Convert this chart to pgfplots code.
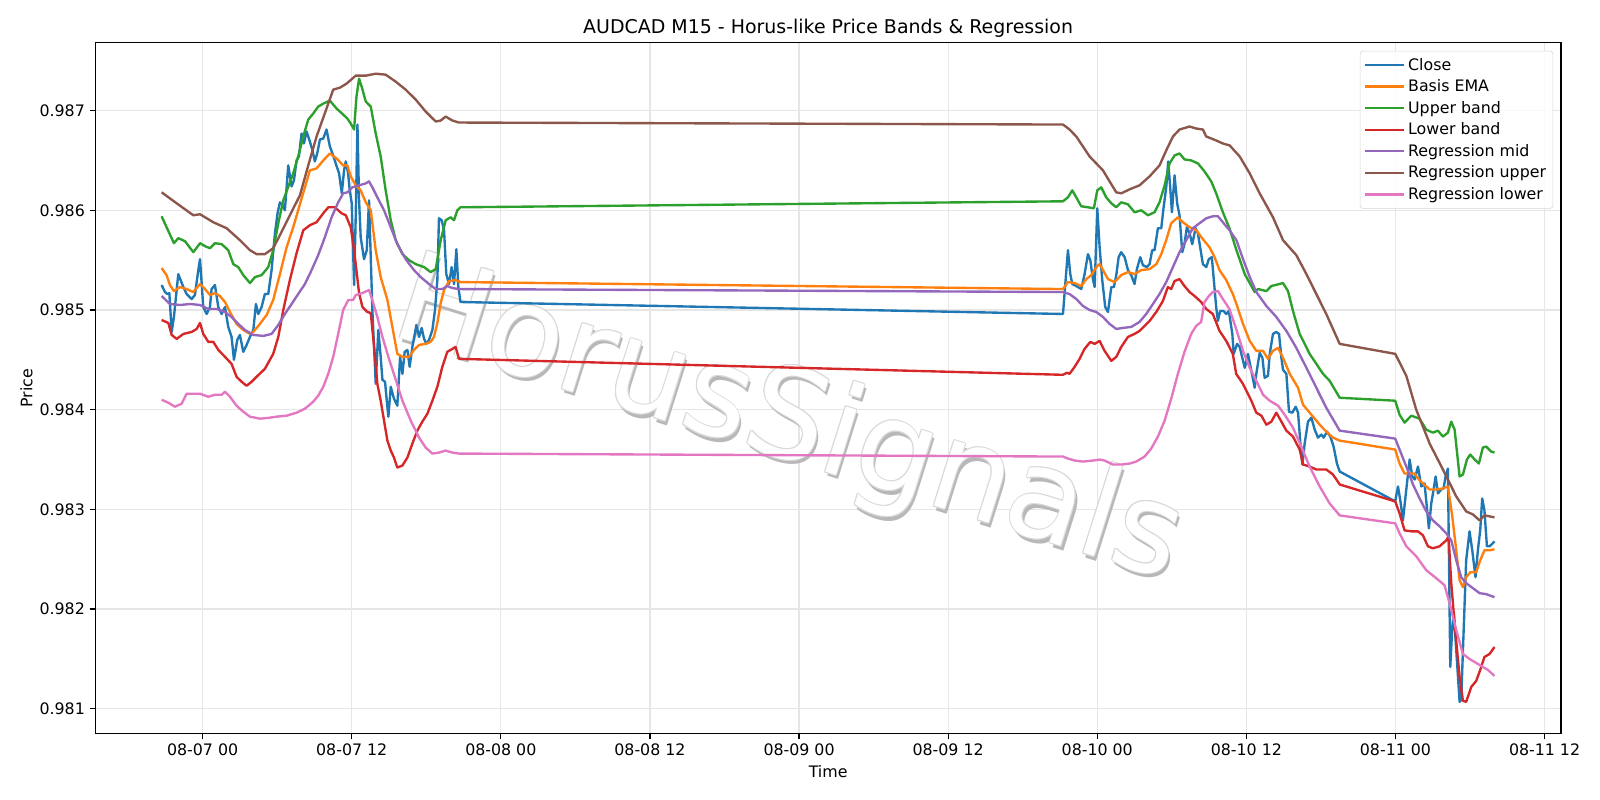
\documentclass[border=0pt]{standalone}
\usepackage{fontspec}
\setmainfont{DejaVu Sans}
\usepackage{pgfplots}
\pgfplotsset{compat=1.18}
\definecolor{c0}{HTML}{1F77B4}
\definecolor{c1}{HTML}{FF7F0E}
\definecolor{c2}{HTML}{2CA02C}
\definecolor{c3}{HTML}{D62728}
\definecolor{c4}{HTML}{9467BD}
\definecolor{c5}{HTML}{8C564B}
\definecolor{c6}{HTML}{E377C2}
\definecolor{gridgray}{RGB}{230,230,230}
\definecolor{legendgray}{RGB}{214,214,214}
\newcommand{\wmfont}{\fontsize{90.5}{96}\selectfont}
\newcommand{\lblfont}{\fontsize{11.43}{13.7}\selectfont}
\begin{document}
\begin{tikzpicture}
\begin{axis}[
  at={(0,0)}, anchor=south west,
  scale only axis, width=1055.3bp, height=497.5bp,
  set layers,
  xmin=-8.64, xmax=109.32, ymin=0.98075, ymax=0.98768,
  xtick={0,12,24,36,48,60,72,84,96,108},
  xticklabels={08-07 00,08-07 12,08-08 00,08-08 12,08-09 00,08-09 12,08-10 00,08-10 12,08-11 00,08-11 12},
  ytick={0.981,0.982,0.983,0.984,0.985,0.986,0.987},
  yticklabels={0.981,0.982,0.983,0.984,0.985,0.986,0.987},
  /pgf/number format/assume math mode=true,
  ticklabel style={font=\lblfont},
  tick pos=left, tick align=outside, major tick length=4pt,
  tick style={line width=0.9pt, black},
  axis line style={line width=0.9pt},
  grid=major, major grid style={line width=0.9pt, color=gridgray},
  title={AUDCAD M15 - Horus-like Price Bands \& Regression},
  every axis title shift=0pt,
  title style={font=\fontsize{13.7}{16}\selectfont, at={(axis description cs:0.5,1.0133)}, anchor=base, yshift=0pt},
  xlabel={Time}, ylabel={Price},
  every axis x label/.style={at={(axis description cs:0.5,-0.0630)}, anchor=base, font=\lblfont},
  every axis y label/.style={at={(axis description cs:-0.0430,0.5)}, rotate=90, anchor=base, font=\lblfont},
  legend style={at={(axis description cs:0.9947,0.9884)}, anchor=north east, draw=legendgray, rounded corners=2pt, fill=white, fill opacity=0.8, draw opacity=1, text opacity=1, font=\lblfont, row sep=1.4pt, inner xsep=3pt, inner ysep=3pt},
  legend cell align=left,
  legend image code/.code={\path (0pt,0pt) -- (28pt,0pt); \draw[#1] (0pt,0pt) -- (24pt,0pt);},
  every axis plot/.append style={line width=1.71pt, line join=round, mark=none},
]
\begin{pgfonlayer}{pre main}
\node[text=black!28, rotate=-17.5, font=\wmfont, xshift=2.6pt, yshift=-2.6pt] at (axis description cs:0.4728,0.4484) {HorusSignals};
\pgfplotsinvokeforeach{0,45,90,135,180,225,270,315}{
  \node[text=black!15, rotate=-17.5, font=\wmfont, shift={(#1:0.7pt)}] at (axis description cs:0.4728,0.4484) {HorusSignals};
}
\node[text=white, rotate=-17.5, font=\wmfont] at (axis description cs:0.4728,0.4484) {HorusSignals};
\end{pgfonlayer}

% Close
\addplot[c0] coordinates {
(-3.30,0.98525) (-3.03,0.98518) (-2.84,0.98516) (-2.68,0.98517) (-2.49,0.98478) (-2.31,0.98493) (-1.96,0.98536) (-1.55,0.98523) (-1.29,0.98516) (-0.88,0.98511) (-0.62,0.98515) (-0.35,0.98540) (-0.21,0.98551) (0.05,0.98503) (0.32,0.98496) (0.59,0.98503) (0.72,0.98521) (0.99,0.98525) (1.26,0.98503) (1.53,0.98496) (1.80,0.98503) (2.06,0.98483) (2.33,0.98473) (2.52,0.98450) (2.79,0.98470) (3.00,0.98475) (3.27,0.98458) (3.54,0.98465) (3.81,0.98473) (4.08,0.98480) (4.29,0.98506) (4.48,0.98496) (4.75,0.98503) (5.01,0.98516) (5.28,0.98516) (5.55,0.98540) (5.82,0.98577) (6.03,0.98597) (6.22,0.98608) (6.43,0.98605) (6.62,0.98600) (6.89,0.98645) (7.16,0.98624) (7.35,0.98630) (7.56,0.98650) (7.75,0.98654) (7.96,0.98677) (8.15,0.98667) (8.36,0.98679) (8.58,0.98671) (8.82,0.98661) (9.03,0.98649) (9.22,0.98657) (9.44,0.98671) (9.71,0.98672) (9.97,0.98681) (10.24,0.98664) (10.45,0.98657) (10.71,0.98647) (10.98,0.98637) (11.20,0.98617) (11.38,0.98640) (11.52,0.98649) (11.71,0.98637) (11.84,0.98620) (12.00,0.98607) (12.19,0.98525) (12.32,0.98593) (12.46,0.98686) (12.59,0.98610) (12.72,0.98573) (12.99,0.98551) (13.21,0.98560) (13.39,0.98610) (13.66,0.98500) (13.93,0.98426) (14.14,0.98480) (14.33,0.98453) (14.47,0.98430) (14.68,0.98428) (14.82,0.98409) (14.95,0.98393) (15.14,0.98423) (15.40,0.98411) (15.67,0.98404) (15.89,0.98453) (16.08,0.98436) (16.26,0.98458) (16.48,0.98460) (16.66,0.98443) (16.88,0.98463) (17.09,0.98477) (17.20,0.98485) (17.42,0.98473) (17.63,0.98482) (17.82,0.98471) (18.01,0.98466) (18.22,0.98470) (18.49,0.98480) (18.70,0.98500) (18.89,0.98530) (19.02,0.98592) (19.24,0.98590) (19.43,0.98580) (19.61,0.98536) (19.83,0.98526) (20.04,0.98543) (20.23,0.98526) (20.42,0.98561) (20.58,0.98523) (20.75,0.98508)
(69.24,0.98496) (69.64,0.98560) (69.83,0.98536) (69.99,0.98526) (70.31,0.98524) (70.71,0.98521) (70.98,0.98536) (71.25,0.98556) (71.44,0.98550) (71.65,0.98531) (71.79,0.98523) (72.00,0.98602) (72.19,0.98563) (72.40,0.98530) (72.64,0.98503) (72.86,0.98498) (73.13,0.98523) (73.34,0.98523) (73.53,0.98535) (73.72,0.98553) (73.93,0.98558) (74.20,0.98553) (74.47,0.98540) (74.73,0.98535) (75.00,0.98526) (75.19,0.98541) (75.46,0.98553) (75.67,0.98545) (75.99,0.98543) (76.21,0.98546) (76.42,0.98560) (76.61,0.98560) (76.88,0.98582) (77.15,0.98582) (77.34,0.98603) (77.55,0.98623) (77.71,0.98649) (77.87,0.98623) (78.01,0.98598) (78.22,0.98635) (78.43,0.98607) (78.62,0.98595) (78.84,0.98558) (79.02,0.98566) (79.21,0.98583) (79.43,0.98577) (79.64,0.98566) (79.91,0.98582) (80.10,0.98577) (80.28,0.98563) (80.50,0.98546) (80.77,0.98543) (80.98,0.98551) (81.22,0.98553) (81.36,0.98533) (81.57,0.98503) (81.71,0.98489) (81.89,0.98499) (82.16,0.98499) (82.38,0.98496) (82.59,0.98499) (82.87,0.98476) (82.98,0.98456) (83.25,0.98466) (83.46,0.98463) (83.87,0.98442) (84.13,0.98456) (84.40,0.98439) (84.67,0.98422) (84.80,0.98436) (85.07,0.98457) (85.29,0.98452) (85.47,0.98432) (85.74,0.98434) (85.88,0.98456) (86.14,0.98476) (86.41,0.98478) (86.63,0.98476) (86.82,0.98452) (86.95,0.98440) (87.22,0.98436) (87.43,0.98398) (87.70,0.98397) (87.97,0.98403) (88.16,0.98397) (88.35,0.98366) (88.51,0.98345) (88.69,0.98366) (88.96,0.98388) (89.23,0.98392) (89.50,0.98380) (89.76,0.98372) (90.03,0.98375) (90.22,0.98372) (90.49,0.98378) (90.76,0.98373) (91.02,0.98363) (91.29,0.98346) (91.51,0.98338)
(95.98,0.98308) (96.20,0.98323) (96.39,0.98309) (96.60,0.98289) (96.87,0.98320) (97.14,0.98350) (97.35,0.98333) (97.54,0.98330) (97.81,0.98343) (98.08,0.98323) (98.34,0.98326) (98.69,0.98281) (98.88,0.98306) (99.07,0.98320) (99.23,0.98333) (99.42,0.98316) (99.68,0.98320) (99.87,0.98321) (100.03,0.98333) (100.22,0.98341) (100.41,0.98142) (100.57,0.98182) (100.70,0.98196) (100.89,0.98159) (101.16,0.98107) (101.29,0.98109) (101.43,0.98159) (101.69,0.98249) (101.96,0.98278) (102.18,0.98259) (102.44,0.98232) (102.63,0.98259) (102.82,0.98279) (102.98,0.98311) (103.16,0.98299) (103.36,0.98263) (103.57,0.98263) (103.83,0.98266) (103.97,0.98268)
};
\addlegendentry{Close}

% Basis EMA
\addplot[c1] coordinates {
(-3.30,0.98542) (-2.90,0.98535) (-2.63,0.98525) (-2.31,0.98519) (-1.82,0.98523) (-1.29,0.98521) (-0.75,0.98518) (-0.21,0.98526) (0.19,0.98521) (0.59,0.98515) (0.99,0.98517) (1.39,0.98514) (1.80,0.98508) (2.20,0.98498) (2.73,0.98486) (3.27,0.98480) (3.81,0.98476) (4.08,0.98478) (4.61,0.98486) (5.15,0.98495) (5.68,0.98510) (6.22,0.98536) (6.76,0.98563) (7.29,0.98583) (7.83,0.98606) (8.63,0.98640) (9.17,0.98642) (9.71,0.98650) (10.24,0.98657) (10.78,0.98652) (11.31,0.98645) (11.65,0.98645) (11.92,0.98634) (12.32,0.98625) (12.72,0.98620) (13.13,0.98608) (13.53,0.98600) (13.93,0.98560) (14.33,0.98533) (14.87,0.98510) (15.27,0.98483) (15.67,0.98456) (16.08,0.98453) (16.61,0.98453) (17.01,0.98460) (17.42,0.98465) (17.95,0.98466) (18.35,0.98468) (18.62,0.98473) (18.89,0.98487) (19.16,0.98507) (19.43,0.98520) (19.83,0.98529) (20.36,0.98530) (20.75,0.98528)
(69.24,0.98521) (69.64,0.98528) (70.18,0.98527) (70.71,0.98524) (71.12,0.98531) (71.52,0.98535) (71.92,0.98543) (72.19,0.98546) (72.46,0.98540) (72.86,0.98531) (73.39,0.98528) (73.93,0.98535) (74.47,0.98538) (75.00,0.98536) (75.54,0.98540) (76.21,0.98541) (76.75,0.98546) (77.15,0.98556) (77.55,0.98570) (77.95,0.98587) (78.49,0.98593) (78.89,0.98588) (79.43,0.98583) (79.96,0.98580) (80.50,0.98571) (81.03,0.98563) (81.44,0.98553) (81.84,0.98540) (82.38,0.98530) (82.91,0.98516) (83.20,0.98506) (83.73,0.98486) (84.27,0.98469) (84.80,0.98459) (85.34,0.98459) (85.74,0.98451) (86.14,0.98459) (86.55,0.98462) (86.95,0.98452) (87.49,0.98436) (88.16,0.98422) (88.56,0.98405) (89.23,0.98395) (89.90,0.98385) (90.43,0.98378) (90.97,0.98372) (91.51,0.98369)
(95.98,0.98360) (96.33,0.98346) (96.73,0.98336) (97.14,0.98336) (97.54,0.98336) (97.81,0.98331) (98.21,0.98326) (98.75,0.98320) (99.28,0.98320) (99.82,0.98321) (100.22,0.98323) (100.57,0.98293) (100.89,0.98259) (101.16,0.98229) (101.43,0.98222) (101.69,0.98232) (102.02,0.98237) (102.50,0.98237) (102.82,0.98249) (103.16,0.98259) (103.57,0.98259) (103.97,0.98260)
};
\addlegendentry{Basis EMA}

% Upper band
\addplot[c2] coordinates {
(-3.30,0.98594) (-2.90,0.98583) (-2.31,0.98567) (-1.96,0.98572) (-1.42,0.98569) (-0.75,0.98558) (-0.21,0.98567) (0.19,0.98564) (0.59,0.98562) (0.99,0.98567) (1.53,0.98566) (2.06,0.98560) (2.47,0.98546) (2.87,0.98543) (3.27,0.98535) (3.81,0.98527) (4.21,0.98533) (4.75,0.98535) (5.28,0.98543) (5.68,0.98560) (6.09,0.98587) (6.49,0.98610) (7.29,0.98637) (7.69,0.98654) (8.10,0.98674) (8.50,0.98691) (8.90,0.98697) (9.30,0.98704) (9.71,0.98707) (10.24,0.98710) (10.78,0.98702) (11.31,0.98696) (11.65,0.98692) (11.92,0.98687) (12.19,0.98681) (12.38,0.98714) (12.59,0.98732) (12.80,0.98724) (13.13,0.98709) (13.53,0.98704) (13.93,0.98677) (14.33,0.98654) (14.73,0.98620) (15.14,0.98590) (15.54,0.98570) (16.08,0.98556) (16.61,0.98550) (17.15,0.98546) (17.82,0.98543) (18.35,0.98538) (18.76,0.98541) (19.16,0.98570) (19.56,0.98590) (19.96,0.98593) (20.23,0.98590) (20.50,0.98600) (20.75,0.98603)
(69.24,0.98609) (69.64,0.98613) (69.99,0.98620) (70.31,0.98613) (70.71,0.98604) (71.25,0.98603) (71.73,0.98602) (72.00,0.98620) (72.32,0.98623) (72.72,0.98613) (73.13,0.98607) (73.53,0.98603) (73.93,0.98608) (74.47,0.98606) (75.00,0.98598) (75.54,0.98600) (76.08,0.98595) (76.61,0.98598) (77.01,0.98608) (77.42,0.98625) (77.82,0.98647) (78.22,0.98655) (78.62,0.98657) (79.02,0.98651) (79.56,0.98650) (80.10,0.98647) (80.63,0.98639) (81.17,0.98629) (81.57,0.98617) (82.11,0.98598) (82.64,0.98582) (83.20,0.98560) (83.87,0.98536) (84.67,0.98518) (84.94,0.98521) (85.61,0.98519) (86.01,0.98524) (86.95,0.98527) (87.35,0.98519) (87.75,0.98499) (88.29,0.98476) (89.09,0.98456) (90.17,0.98436) (90.70,0.98429) (91.51,0.98412)
(95.98,0.98409) (96.33,0.98395) (96.73,0.98387) (97.27,0.98394) (97.94,0.98391) (98.48,0.98380) (99.01,0.98377) (99.42,0.98379) (99.82,0.98373) (100.22,0.98377) (100.49,0.98388) (100.76,0.98380) (101.16,0.98333) (101.43,0.98335) (101.75,0.98350) (102.02,0.98355) (102.37,0.98350) (102.71,0.98346) (103.03,0.98362) (103.30,0.98363) (103.70,0.98358) (103.97,0.98357)
};
\addlegendentry{Upper band}

% Lower band
\addplot[c3] coordinates {
(-3.30,0.98490) (-2.76,0.98487) (-2.49,0.98475) (-2.09,0.98471) (-1.55,0.98476) (-0.88,0.98478) (-0.48,0.98481) (-0.21,0.98487) (0.05,0.98476) (0.46,0.98468) (0.86,0.98468) (1.26,0.98460) (1.80,0.98453) (2.33,0.98446) (2.73,0.98433) (3.14,0.98428) (3.54,0.98424) (3.94,0.98428) (4.34,0.98433) (5.01,0.98441) (5.68,0.98456) (6.09,0.98473) (6.49,0.98500) (7.02,0.98530) (7.56,0.98557) (8.10,0.98580) (8.63,0.98585) (9.17,0.98588) (9.71,0.98597) (10.11,0.98603) (10.64,0.98603) (11.18,0.98597) (11.52,0.98595) (11.92,0.98583) (12.19,0.98560) (12.59,0.98517) (12.86,0.98503) (13.26,0.98498) (13.53,0.98497) (13.80,0.98463) (14.06,0.98426) (14.33,0.98409) (14.60,0.98389) (14.87,0.98369) (15.14,0.98359) (15.40,0.98352) (15.67,0.98342) (16.08,0.98344) (16.48,0.98352) (16.88,0.98366) (17.28,0.98379) (17.68,0.98388) (18.09,0.98396) (18.49,0.98409) (18.89,0.98423) (19.29,0.98443) (19.69,0.98458) (20.10,0.98461) (20.36,0.98463) (20.63,0.98451)
(69.24,0.98435) (69.56,0.98437) (69.77,0.98436) (70.18,0.98443) (70.58,0.98451) (70.98,0.98461) (71.44,0.98468) (71.79,0.98466) (72.19,0.98469) (72.59,0.98459) (73.13,0.98449) (73.53,0.98453) (73.93,0.98463) (74.47,0.98473) (75.00,0.98476) (75.40,0.98479) (75.81,0.98484) (76.21,0.98489) (76.75,0.98498) (77.28,0.98509) (77.68,0.98523) (77.95,0.98521) (78.22,0.98529) (78.62,0.98531) (79.02,0.98524) (79.43,0.98518) (79.83,0.98514) (80.36,0.98508) (80.77,0.98501) (81.30,0.98496) (81.84,0.98479) (82.38,0.98469) (82.91,0.98456) (83.18,0.98436) (83.72,0.98426) (84.40,0.98409) (84.80,0.98397) (85.21,0.98394) (85.61,0.98385) (86.01,0.98388) (86.41,0.98397) (86.82,0.98388) (87.22,0.98379) (87.75,0.98373) (88.29,0.98360) (88.56,0.98345) (89.09,0.98343) (89.63,0.98340) (90.43,0.98340) (90.97,0.98335) (91.51,0.98325)
(95.98,0.98308) (96.33,0.98296) (96.73,0.98279) (97.27,0.98278) (97.81,0.98278) (98.21,0.98274) (98.61,0.98263) (99.01,0.98261) (99.55,0.98263) (100.09,0.98269) (100.27,0.98273) (100.49,0.98226) (100.76,0.98185) (101.16,0.98132) (101.43,0.98108) (101.69,0.98107) (102.10,0.98122) (102.50,0.98128) (102.82,0.98139) (103.16,0.98152) (103.57,0.98155) (103.97,0.98162)
};
\addlegendentry{Lower band}

% Regression mid
\addplot[c4] coordinates {
(-3.30,0.98514) (-2.63,0.98506) (-1.82,0.98505) (-1.02,0.98506) (-0.21,0.98505) (0.46,0.98501) (1.13,0.98501) (1.80,0.98498) (2.33,0.98493) (2.87,0.98486) (3.40,0.98480) (4.08,0.98475) (4.88,0.98474) (5.55,0.98476) (6.09,0.98485) (6.62,0.98496) (7.16,0.98506) (7.69,0.98516) (8.23,0.98526) (8.77,0.98540) (9.30,0.98555) (9.84,0.98573) (10.38,0.98593) (10.91,0.98608) (11.31,0.98617) (11.65,0.98618) (12.05,0.98623) (12.59,0.98625) (13.13,0.98627) (13.39,0.98629) (13.66,0.98623) (14.06,0.98613) (14.60,0.98600) (15.14,0.98583) (15.67,0.98566) (16.34,0.98551) (17.01,0.98540) (17.55,0.98533) (18.22,0.98526) (18.76,0.98521) (19.29,0.98521) (19.69,0.98524) (20.10,0.98522) (20.63,0.98521)
(69.24,0.98518) (69.77,0.98516) (70.31,0.98511) (70.85,0.98504) (71.38,0.98500) (71.92,0.98498) (72.46,0.98493) (72.99,0.98486) (73.53,0.98481) (74.06,0.98482) (74.73,0.98483) (75.40,0.98488) (75.94,0.98496) (76.48,0.98506) (77.01,0.98516) (77.55,0.98528) (78.09,0.98543) (78.62,0.98558) (79.16,0.98570) (79.69,0.98582) (80.23,0.98587) (80.77,0.98592) (81.30,0.98594) (81.71,0.98594) (82.11,0.98588) (82.64,0.98580) (83.20,0.98570) (83.73,0.98551) (84.27,0.98533) (84.80,0.98518) (85.61,0.98504) (86.41,0.98493) (87.22,0.98479) (88.02,0.98462) (88.83,0.98442) (89.63,0.98422) (90.43,0.98402) (91.51,0.98379)
(95.98,0.98371) (96.33,0.98360) (96.87,0.98343) (97.41,0.98325) (97.94,0.98311) (98.48,0.98298) (99.01,0.98289) (99.55,0.98283) (100.09,0.98276) (100.49,0.98269) (100.89,0.98249) (101.29,0.98232) (101.69,0.98226) (102.23,0.98221) (102.77,0.98216) (103.30,0.98215) (103.97,0.98212)
};
\addlegendentry{Regression mid}

% Regression upper
\addplot[c5] coordinates {
(-3.30,0.98618) (-2.09,0.98607) (-0.75,0.98595) (-0.21,0.98596) (0.86,0.98588) (1.93,0.98582) (3.00,0.98570) (3.81,0.98560) (4.34,0.98556) (5.01,0.98556) (5.68,0.98562) (6.22,0.98575) (7.02,0.98595) (7.83,0.98615) (8.50,0.98645) (9.17,0.98674) (10.51,0.98721) (11.05,0.98723) (11.58,0.98727) (12.32,0.98735) (13.13,0.98735) (13.93,0.98737) (14.73,0.98736) (15.54,0.98729) (16.34,0.98721) (17.15,0.98711) (17.95,0.98699) (18.76,0.98689) (19.16,0.98690) (19.56,0.98694) (20.10,0.98690) (20.63,0.98688)
(69.24,0.98686) (69.77,0.98681) (70.31,0.98674) (70.85,0.98664) (71.38,0.98654) (71.92,0.98647) (72.46,0.98640) (72.99,0.98629) (73.53,0.98618) (73.93,0.98617) (74.60,0.98621) (75.40,0.98625) (76.21,0.98634) (77.01,0.98645) (77.55,0.98660) (78.09,0.98674) (78.62,0.98681) (79.43,0.98684) (79.96,0.98682) (80.50,0.98681) (80.77,0.98674) (81.57,0.98670) (82.11,0.98667) (82.66,0.98665) (83.46,0.98654) (84.27,0.98637) (85.07,0.98617) (86.14,0.98593) (86.95,0.98570) (88.02,0.98555) (88.83,0.98536) (89.63,0.98516) (90.43,0.98496) (91.51,0.98466)
(95.98,0.98456) (96.87,0.98434) (97.67,0.98400) (98.75,0.98366) (99.82,0.98340) (100.89,0.98313) (101.69,0.98298) (102.23,0.98295) (102.77,0.98289) (103.16,0.98294) (103.97,0.98292)
};
\addlegendentry{Regression upper}

% Regression lower
\addplot[c6] coordinates {
(-3.30,0.98410) (-2.76,0.98407) (-2.23,0.98403) (-1.69,0.98406) (-1.29,0.98416) (-0.75,0.98416) (-0.21,0.98416) (0.46,0.98413) (0.99,0.98415) (1.53,0.98415) (1.80,0.98418) (2.20,0.98413) (2.73,0.98404) (3.27,0.98398) (3.81,0.98393) (4.61,0.98391) (5.42,0.98392) (5.95,0.98393) (6.76,0.98394) (7.56,0.98397) (8.23,0.98401) (8.90,0.98408) (9.30,0.98414) (9.71,0.98423) (10.11,0.98436) (10.51,0.98453) (10.91,0.98476) (11.31,0.98500) (11.72,0.98510) (12.11,0.98510) (12.32,0.98515) (12.86,0.98517) (13.39,0.98520) (13.66,0.98510) (14.06,0.98493) (14.47,0.98473) (15.00,0.98451) (15.54,0.98430) (16.08,0.98409) (16.75,0.98389) (17.42,0.98372) (17.95,0.98362) (18.49,0.98356) (19.02,0.98357) (19.56,0.98359) (20.10,0.98357) (20.63,0.98356)
(69.24,0.98353) (69.64,0.98351) (70.18,0.98349) (70.85,0.98348) (71.65,0.98349) (72.19,0.98350) (72.59,0.98349) (73.26,0.98345) (73.93,0.98345) (74.60,0.98346) (75.14,0.98348) (75.81,0.98353) (76.34,0.98361) (76.88,0.98373) (77.42,0.98389) (77.95,0.98411) (78.49,0.98436) (79.02,0.98458) (79.56,0.98476) (79.96,0.98484) (80.36,0.98488) (80.63,0.98508) (80.98,0.98514) (81.30,0.98518) (81.71,0.98519) (82.11,0.98511) (82.64,0.98501) (83.18,0.98481) (83.73,0.98459) (84.27,0.98442) (84.80,0.98429) (85.34,0.98415) (85.88,0.98409) (86.55,0.98404) (87.08,0.98395) (87.75,0.98382) (88.42,0.98363) (89.09,0.98343) (89.90,0.98323) (90.70,0.98306) (91.51,0.98294)
(95.98,0.98286) (96.33,0.98276) (96.87,0.98263) (97.67,0.98253) (98.48,0.98239) (99.28,0.98231) (99.95,0.98224) (100.35,0.98206) (100.89,0.98179) (101.43,0.98155) (101.96,0.98150) (102.77,0.98144) (103.44,0.98139) (103.97,0.98133)
};
\addlegendentry{Regression lower}
\end{axis}
\pgfresetboundingbox
\path[use as bounding box] (-68.6bp,-47.7bp) rectangle (1083.4bp,528.3bp);
\end{tikzpicture}
\end{document}
